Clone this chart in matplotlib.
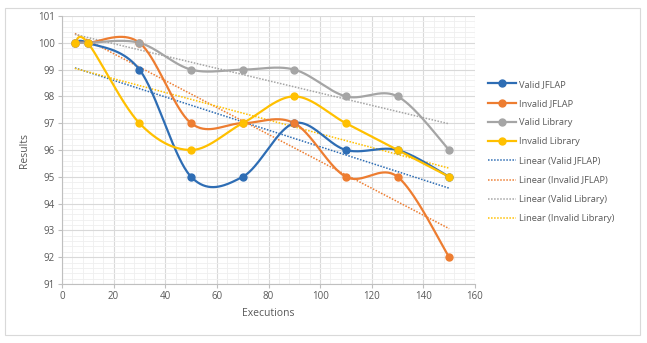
import numpy as np
import matplotlib
matplotlib.use("Agg")
import matplotlib.pyplot as plt
from matplotlib.patches import Rectangle
from matplotlib.ticker import MultipleLocator

executions = [5, 10, 30, 50, 70, 90, 110, 130, 150]
valid_jflap = [100, 100, 99, 95, 95, 97, 96, 96, 95]
invalid_jflap = [100, 100, 100, 97, 97, 97, 95, 95, 92]
valid_library = [100, 100, 100, 99, 99, 99, 98, 98, 96]
invalid_library = [100, 100, 97, 96, 97, 98, 97, 96, 95]

series_names = ["Valid JFLAP", "Invalid JFLAP", "Valid Library", "Invalid Library"]
colors = ["#2E6DB4", "#ED7D31", "#A5A5A5", "#FFC000"]

plt.rcParams['font.family'] = ['Open Sans', 'DejaVu Sans']


def smooth(x, y, n=40):
    # Excel-style Catmull-Rom Bezier smoothing
    x = np.asarray(x, float)
    y = np.asarray(y, float)
    P = np.column_stack([x, y])
    out = []
    for i in range(len(P) - 1):
        p0 = P[i - 1] if i > 0 else P[i]
        p1 = P[i]
        p2 = P[i + 1]
        p3 = P[i + 2] if i + 2 < len(P) else P[i + 1]
        c1 = p1 + (p2 - p0) / 6.0
        c2 = p2 - (p3 - p1) / 6.0
        t = np.linspace(0, 1, n)[:, None]
        seg = ((1 - t) ** 3) * p1 + 3 * ((1 - t) ** 2) * t * c1 + 3 * (1 - t) * t ** 2 * c2 + t ** 3 * p2
        out.append(seg if i == 0 else seg[1:])
    out = np.vstack(out)
    return out[:, 0], out[:, 1]


W, H = 647, 343
fig = plt.figure(figsize=(W / 100, H / 100), dpi=100)
fig.patches.append(Rectangle((5 / W, 8 / H), 635 / W, 327 / H, transform=fig.transFigure,
                             fill=False, edgecolor="#D9D9D9", linewidth=0.8))

ax = fig.add_axes([62 / W, 1 - 284 / H, (475 - 62) / W, (284 - 16) / H])

ax.set_xlim(0, 160)
ax.set_ylim(91, 101)
ax.xaxis.set_major_locator(MultipleLocator(20))
ax.xaxis.set_minor_locator(MultipleLocator(4))
ax.yaxis.set_major_locator(MultipleLocator(1))
ax.yaxis.set_minor_locator(MultipleLocator(0.2))
ax.grid(which="major", color="#D9D9D9", linewidth=0.8)
ax.grid(which="minor", color="#EFEFEF", linewidth=0.6)
ax.set_axisbelow(True)
for s in ["top", "right"]:
    ax.spines[s].set_visible(False)
for s in ["left", "bottom"]:
    ax.spines[s].set_color("#BFBFBF")
    ax.spines[s].set_linewidth(0.8)
ax.tick_params(which="major", length=3, color="#BFBFBF", labelsize=7, labelcolor="#595959", pad=2)
ax.tick_params(which="minor", length=0)

data = [valid_jflap, invalid_jflap, valid_library, invalid_library]
handles = []
for name, ys, c in zip(series_names, data, colors):
    sx, sy = smooth(executions, ys)
    ax.plot(sx, sy, color=c, linewidth=1.6, zorder=3)
    ax.plot(executions, ys, "o", color=c, markersize=5, zorder=4)
    h, = ax.plot([], [], color=c, linewidth=1.6, marker="o", markersize=5, label=name)
    handles.append(h)

for name, ys, c in zip(series_names, data, colors):
    k, b = np.polyfit(executions, ys, 1)
    xs = np.array([executions[0], executions[-1]])
    h, = ax.plot(xs, k * xs + b, color=c, linestyle=(0, (1, 1)), linewidth=1.1, zorder=2,
                 label="Linear (%s)" % name)
    handles.append(h)

ax.set_xlabel("Executions", fontsize=7.5, color="#595959", labelpad=4)
ax.set_ylabel("Results", fontsize=7.5, color="#595959", labelpad=6)

fig.legend(handles=handles, loc="upper left", bbox_to_anchor=(484 / W, 1 - 76 / H),
           frameon=False, fontsize=6.7, labelcolor="#595959", handlelength=3.0,
           labelspacing=1.1, handletextpad=0.4, borderaxespad=0)

fig.savefig("out.png", dpi=100)
